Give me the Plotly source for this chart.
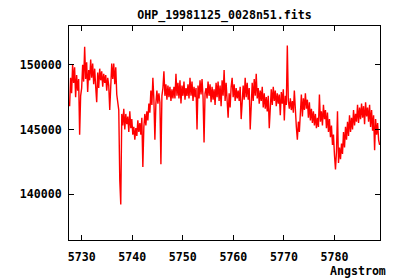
import plotly.graph_objects as go

# Wavelength grid (FITS-style: start and step, in Angstrom)
CRVAL1 = 5727.62
CDELT1 = 0.1984

flux = [
    146800, 149000, 147800, 150000, 148600, 149800, 147500, 149200, 148000, 148900,
    144600, 147600, 148200, 150000, 148700, 151400, 148900, 150200, 147900, 149600,
    148800, 150400, 149000, 150100, 148500, 149700, 148300, 147100, 149400, 148200,
    149700, 148800, 149500, 148300, 149300, 148600, 149200, 148000, 149000, 148400,
    146500, 148600, 150100, 148900, 150100, 148500, 149800, 147700, 147000, 146500,
    141100, 139200, 146200, 145300, 146600, 145000, 146200, 145400, 146000, 144800,
    146400, 145100, 145800, 144600, 145200, 144200, 145100, 144500, 145700, 144800,
    145500, 144600, 145900, 142100, 145200, 146200, 145300, 146400, 145700, 147000,
    146300, 148000, 146900, 149000, 147300, 144200, 147000, 148000, 147000, 147800,
    147100, 142300, 147600, 148200, 149500, 147600, 148500, 147300, 148400, 147500,
    148300, 147200, 148100, 147400, 148300, 147400, 149300, 147600, 148600, 147400,
    148800, 147000, 148400, 147600, 148700, 147300, 148200, 147600, 148500, 147400,
    149000, 147600, 148700, 147200, 148300, 147500, 148200, 145000, 148400, 147400,
    148800, 147700, 148900, 147500, 144000, 147800, 148200, 147400, 148700, 147600,
    148500, 147100, 148300, 147300, 148100, 146900, 148600, 147500, 148700, 147200,
    148400, 146800, 148800, 147600, 149600, 147200, 148600, 146900, 145900, 147800,
    146700, 148300, 149000, 147500, 148500, 147200, 148200, 147400, 148000, 147200,
    148300, 145800, 147700, 148400, 147300, 149000, 147500, 148600, 147300, 148200,
    145000, 147600, 148600, 147200, 148900, 147600, 149300, 147400, 148200, 147000,
    148000, 147200, 148300, 146700, 147800, 146600, 147500, 146400, 147600, 145100,
    147300, 148100, 146900, 148300, 147200, 148000, 146800, 147800, 147000, 147700,
    146100, 147900, 147000, 148100, 145700, 147600, 146900, 151500, 147200, 146600,
    147400, 146500, 147200, 146300, 148000, 146000, 145200, 144200, 145600, 144800,
    146200, 147700, 146000, 147400, 146500, 147800, 146600, 147300, 145900, 147100,
    145700, 146600, 145500, 146400, 145300, 146200, 145100, 145900, 145200, 147700,
    145600, 146400, 145300, 146900, 145800, 146500, 145100, 146300, 144800, 145800,
    144400, 145300, 143800, 144600, 143000, 141900, 143300, 146400, 142400, 143600,
    142700, 143900, 143100, 144800, 143600, 145200, 144200, 145600, 144500, 146100,
    144800, 145900, 145000, 146500, 145300, 146200, 145600, 146900, 145500, 146700,
    145800, 147000, 145900, 146800, 145400, 147100, 146000, 146700, 145600, 146900,
    145200, 146500, 144900, 146100, 143400, 145800, 144600, 145500, 144200, 143800,
]

wavelength = [CRVAL1 + CDELT1 * i for i in range(len(flux))]

x_ticks = [5730, 5740, 5750, 5760, 5770, 5780]
y_ticks = [140000, 145000, 150000]

title_text = "OHP_19981125_0028n51.fits"
x_label = "Angstrom"

FONT = dict(family="DejaVu Sans Mono", size=11.6, color="black", weight="bold")

fig = go.Figure()
fig.add_trace(go.Scatter(
    x=wavelength, y=flux, mode="lines",
    line=dict(color="#ff0000", width=1.4),
    hoverinfo="skip", showlegend=False,
))

axis_common = dict(
    showgrid=False, zeroline=False, showline=True, linecolor="black", linewidth=1,
    mirror="ticks", ticks="inside", ticklen=5, tickcolor="black", tickwidth=1,
    tickfont=FONT,
)

fig.update_xaxes(range=[5727.5, 5789.0], tickvals=x_ticks,
                 ticktext=[str(v) for v in x_ticks], ticklabelstandoff=6, **axis_common)
fig.update_yaxes(range=[136450, 153000], tickvals=y_ticks,
                 ticktext=[str(v) for v in y_ticks], ticklabelstandoff=4, **axis_common)

fig.update_layout(
    width=400, height=280,
    margin=dict(l=69, r=20, t=26, b=40),
    paper_bgcolor="white", plot_bgcolor="white",
    title=dict(text=title_text, font=FONT, x=0.5, xref="paper",
               y=1 - 15 / 280, yref="container", yanchor="middle", xanchor="center"),
    annotations=[dict(text=x_label, xref="paper", yref="paper", x=1.027, y=-0.145,
                      xanchor="right", yanchor="middle", showarrow=False, font=FONT)],
)

fig.write_html("out.html")
